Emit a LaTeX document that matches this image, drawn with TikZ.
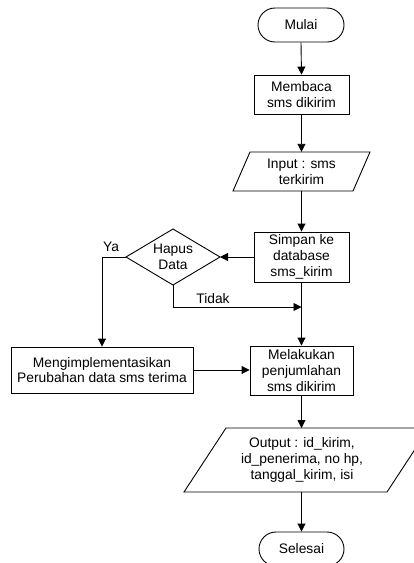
\documentclass[tikz,border=0pt]{standalone}
\usepackage{fontspec}
\setmainfont{Liberation Sans}
\usetikzlibrary{arrows.meta}
\begin{document}
\begin{tikzpicture}[x=1pt,y=-1pt,
  every node/.style={font=\fontsize{13.8}{15.7}\selectfont, align=center, inner sep=0pt},
  proc/.style={draw, line width=0.9pt},
  term/.style={draw, line width=0.9pt, rounded corners=17pt, minimum width=86pt, minimum height=34pt},
  shp/.style={line width=0.9pt},
  arr/.style={line width=0.9pt, -{Triangle[length=8pt,width=8pt]}},
  ln/.style={line width=0.9pt},
  lbl/.style={font=\fontsize{13.8}{15.7}\selectfont}]
\useasboundingbox (0,0) rectangle (414,563);
% nodes
\node[term] (mulai) at (301,25) {Mulai};
\node[proc, minimum width=95pt, minimum height=39pt] (baca) at (301.5,94.5) {Membaca\\sms dikirim};
\node[minimum width=100pt, minimum height=39pt] (inp) at (301.5,171.5) {Input : sms\\terkirim};
\draw[shp, shift={(inp.center)}] (-51.5,-19.5) -- (68.5,-19.5) -- (51.5,19.5) -- (-68.5,19.5) -- cycle;
\node[proc, minimum width=95pt, minimum height=50pt] (simp) at (301.5,257) {Simpan ke\\database\\sms\_kirim};
\node (dec) at (173,257) {Hapus\\Data};
\coordinate (decE) at (220,257);
\coordinate (decW) at (126,257);
\coordinate (decN) at (173,229);
\coordinate (decS) at (173,285);
\draw[shp] (decN) -- (decE) -- (decS) -- (decW) -- cycle;
\node[proc, minimum width=182pt, minimum height=46pt] (mimp) at (102,370) {Mengimplementasikan\\Perubahan data sms terima};
\node[proc, minimum width=103pt, minimum height=49pt] (mel) at (301.5,370.5) {Melakukan\\penjumlahan\\sms dikirim};
\node[minimum width=150pt, minimum height=64pt] (out) at (302,460) {Output : id\_kirim,\\id\_penerima, no hp,\\tanggal\_kirim, isi};
\draw[shp, shift={(out.center)}] (-76,-32) -- (127,-32) -- (85,32) -- (-118,32) -- cycle;
\coordinate (outN) at (301.5,428);
\coordinate (outS) at (301.5,492);
\node[term, minimum width=85pt] (sel) at (301.5,549) {Selesai};
\coordinate (tjoin) at (301.5,307);
% labels
\node[lbl] (ya) at (111,247) {Ya};
\node[lbl] (tidak) at (213,299) {Tidak};
% connectors
\draw[arr] (mulai.south) -- (baca.north);
\draw[arr] (baca.south) -- (inp.north);
\draw[arr] (inp.south) -- (simp.north);
\draw[arr] (simp.west) -- (decE);
\draw[arr] (simp.south) -- (mel.north);
\draw[arr] (decW) -| (mimp.north);
\draw[arr] (decS) |- (tjoin);
\draw[arr] (mimp.east) -- (mimp.east -| mel.west);
\draw[arr] (mel.south) -- (outN);
\draw[arr] (outS) -- (sel.north);
\end{tikzpicture}
\end{document}
